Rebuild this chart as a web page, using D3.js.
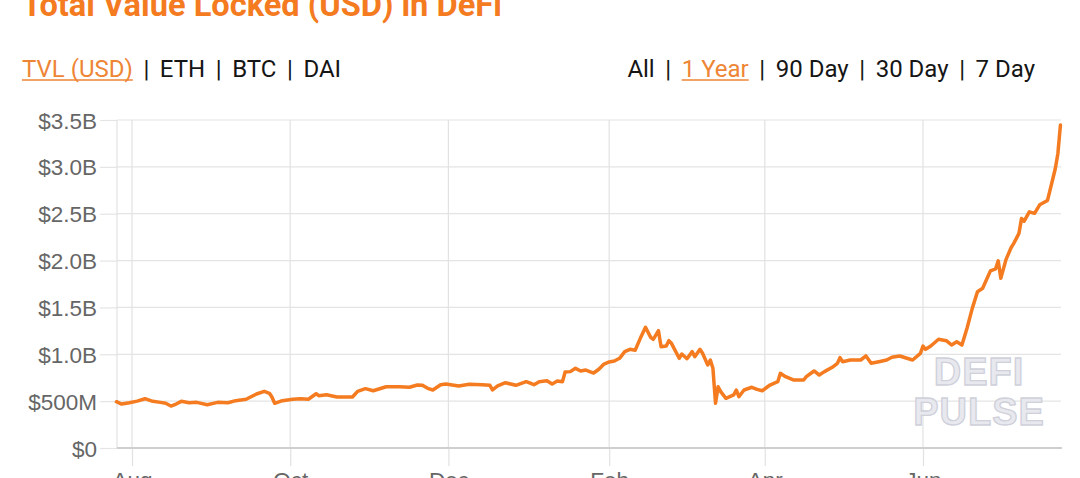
<!DOCTYPE html>
<html><head><meta charset="utf-8">
<script src="https://cdn.jsdelivr.net/npm/d3@7"></script>
<style>
html,body{margin:0;padding:0;background:#fff;overflow:hidden}
svg{display:block}
</style></head><body>
<svg id="c" width="1080" height="478"></svg>
<script>
// ---- data (TVL in billions USD) ----
const dates = [
"2019-07-26","2019-07-28","2019-07-31","2019-08-03","2019-08-06","2019-08-09","2019-08-12","2019-08-14","2019-08-16","2019-08-18",
"2019-08-20","2019-08-23","2019-08-26","2019-08-30","2019-09-03","2019-09-07","2019-09-10","2019-09-14","2019-09-18","2019-09-21",
"2019-09-23","2019-09-24","2019-09-25","2019-09-28","2019-10-02","2019-10-05","2019-10-08","2019-10-11","2019-10-12","2019-10-15",
"2019-10-19","2019-10-25","2019-10-27","2019-10-30","2019-11-02","2019-11-07","2019-11-12","2019-11-16","2019-11-19","2019-11-21",
"2019-11-23","2019-11-25","2019-11-28","2019-11-30","2019-12-05","2019-12-09","2019-12-14","2019-12-17","2019-12-18","2019-12-20",
"2019-12-23","2019-12-27","2019-12-31","2020-01-03","2020-01-05","2020-01-08","2020-01-10","2020-01-12","2020-01-14","2020-01-15",
"2020-01-17","2020-01-19","2020-01-21","2020-01-23","2020-01-26","2020-01-28","2020-01-30","2020-02-01","2020-02-03","2020-02-05",
"2020-02-07","2020-02-09","2020-02-11","2020-02-13","2020-02-15","2020-02-17","2020-02-18","2020-02-20","2020-02-21","2020-02-23",
"2020-02-24","2020-02-25","2020-02-28","2020-02-29","2020-03-02","2020-03-04","2020-03-05","2020-03-07","2020-03-08","2020-03-10",
"2020-03-11","2020-03-12","2020-03-13","2020-03-14","2020-03-15","2020-03-17","2020-03-20","2020-03-21","2020-03-22","2020-03-24",
"2020-03-27","2020-03-29","2020-03-31","2020-04-03","2020-04-06","2020-04-07","2020-04-09","2020-04-12","2020-04-16","2020-04-17",
"2020-04-20","2020-04-22","2020-04-24","2020-04-27","2020-04-29","2020-04-30","2020-05-01","2020-05-04","2020-05-08","2020-05-10",
"2020-05-12","2020-05-15","2020-05-18","2020-05-20","2020-05-23","2020-05-28","2020-05-31","2020-06-01","2020-06-02","2020-06-04",
"2020-06-07","2020-06-10","2020-06-12","2020-06-14","2020-06-16","2020-06-18","2020-06-20","2020-06-22","2020-06-24","2020-06-27",
"2020-06-29","2020-06-30","2020-07-01","2020-07-03","2020-07-05","2020-07-06","2020-07-08","2020-07-09","2020-07-10","2020-07-12",
"2020-07-14","2020-07-16","2020-07-19","2020-07-20","2020-07-22","2020-07-23","2020-07-24"
];
const tvl = [
0.494,0.469,0.483,0.500,0.526,0.498,0.487,0.477,0.448,0.469,
0.498,0.483,0.487,0.462,0.487,0.483,0.505,0.520,0.576,0.605,
0.584,0.541,0.477,0.505,0.520,0.526,0.520,0.579,0.558,0.569,
0.544,0.544,0.605,0.633,0.611,0.654,0.654,0.648,0.672,0.669,
0.637,0.619,0.675,0.683,0.662,0.680,0.675,0.669,0.619,0.662,
0.697,0.669,0.708,0.675,0.708,0.718,0.683,0.715,0.708,0.811,
0.815,0.850,0.822,0.832,0.800,0.840,0.896,0.918,0.928,0.957,
1.028,1.053,1.043,1.170,1.288,1.181,1.160,1.252,1.081,1.088,
1.145,1.117,0.957,1.003,0.953,1.028,0.974,1.053,1.011,0.886,
0.939,0.850,0.477,0.654,0.601,0.530,0.566,0.619,0.548,0.619,
0.648,0.626,0.611,0.672,0.708,0.797,0.761,0.726,0.726,0.761,
0.822,0.779,0.815,0.861,0.904,0.964,0.921,0.939,0.939,0.982,
0.904,0.921,0.939,0.968,0.982,0.939,1.010,1.088,1.053,1.088,
1.160,1.145,1.099,1.134,1.099,1.280,1.490,1.668,1.704,1.890,
1.912,1.997,1.811,2.010,2.140,2.183,2.290,2.450,2.420,2.520,
2.504,2.595,2.642,2.753,2.980,3.140,3.447
];
const xTickDates = ["2019-08-01","2019-10-01","2019-12-01","2020-02-01","2020-04-01","2020-06-01"];
const xTickLabels = ["Aug","Oct","Dec","Feb","Apr","Jun"];
const yTickValues = [0,0.5,1.0,1.5,2.0,2.5,3.0,3.5];
const yTickLabels = ["$0","$500M","$1.0B","$1.5B","$2.0B","$2.5B","$3.0B","$3.5B"];
const metricTabs = ["TVL (USD)","ETH","BTC","DAI"];
const rangeTabs = ["All","1 Year","90 Day","30 Day","7 Day"];
const titleText = "Total Value Locked (USD) in DeFi";
const watermark = ["DEFI","PULSE"];

// ---- styles / layout ----
const ORANGE = "#f47b1f";
const TAB_ORANGE = "#ee8535";
const parse = d3.utcParse("%Y-%m-%d");
const svg = d3.select("#c");
const plotL = 117, plotR = 1061, plotT = 120, plotB = 448;

const x = d3.scaleUtc()
  .domain([parse(xTickDates[0]), parse(xTickDates[xTickDates.length-1])])
  .range([132, 923]);
const y = d3.scaleLinear().domain([0, 3.5]).range([plotB, plotT]);

const data = dates.map((d,i)=>({date: parse(d), v: tvl[i]}));

// title
const title = svg.append("text")
  .attr("x", 22).attr("y", 15.5)
  .attr("font-family", "Roboto, 'Liberation Sans', sans-serif")
  .attr("font-weight", 700).attr("font-size", 32)
  .attr("fill", ORANGE).text(titleText);
const tw = title.node().getComputedTextLength();
title.attr("font-size", 32 * 480 / tw);

// tabs
function drawTabs(items, active, startX, alignRight) {
  const g = svg.append("g");
  const fs = 24, gap = 13.5, base = 76.5;
  const nodes = items.map((t,i)=> g.append("text")
      .attr("font-family","Roboto, sans-serif").attr("font-size", fs)
      .attr("fill", i===active ? TAB_ORANGE : "#151515").text(t));
  const widths = nodes.map(n=>n.node().getComputedTextLength());
  const total = d3.sum(widths) + gap*2*(items.length-1);
  let cx = alignRight ? startX - total : startX;
  nodes.forEach((n,i)=>{
    n.attr("x", cx).attr("y", base);
    if (i===active) {
      g.append("line").attr("x1",cx).attr("x2",cx+widths[i])
        .attr("y1",base+3.5).attr("y2",base+3.5)
        .attr("stroke",TAB_ORANGE).attr("stroke-width",1.4);
    }
    cx += widths[i];
    if (i < items.length-1) {
      g.append("text").attr("x", cx+gap).attr("y", base)
        .attr("text-anchor","middle")
        .attr("font-family","Roboto, sans-serif").attr("font-size", fs)
        .attr("fill","#151515").text("|");
      cx += gap*2;
    }
  });
}
drawTabs(metricTabs, 0, 22, false);
drawTabs(rangeTabs, 1, 1035, true);

// horizontal grid
svg.append("g").selectAll("line").data(yTickValues.slice(1)).join("line")
  .attr("x1", plotL).attr("x2", plotR)
  .attr("y1", d=>y(d)).attr("y2", d=>y(d))
  .attr("stroke", "#e4e4e4").attr("stroke-width", 1.2);

// vertical grid
svg.append("g").selectAll("line").data(xTickDates).join("line")
  .attr("x1", d=>x(parse(d))).attr("x2", d=>x(parse(d)))
  .attr("y1", plotT).attr("y2", plotB)
  .attr("stroke", "#e2e2e2").attr("stroke-width", 1.2);
// left border
svg.append("line").attr("x1",plotL).attr("x2",plotL).attr("y1",plotT).attr("y2",plotB)
  .attr("stroke","#e2e2e2").attr("stroke-width",1.2);

// y axis
const yAxis = d3.axisLeft(y).tickValues(yTickValues)
  .tickFormat((d,i)=>yTickLabels[i]).tickSize(17).tickPadding(3);
const gy = svg.append("g").attr("transform",`translate(${plotL},0)`).call(yAxis);
gy.select(".domain").remove();
gy.selectAll(".tick line").attr("stroke","#e4e4e4").attr("stroke-width",1.2);
gy.selectAll(".tick text").attr("font-family","'Liberation Sans', Arial, sans-serif")
  .attr("font-size",22.5).attr("fill","#666").attr("dy","0.36em");

// x axis
const xAxis = d3.axisBottom(x).tickValues(xTickDates.map(parse))
  .tickFormat((d,i)=>xTickLabels[i]).tickSize(18).tickPadding(6);
const gx = svg.append("g").attr("transform",`translate(0,${plotB})`).call(xAxis);
gx.select(".domain").remove();
gx.selectAll(".tick line").attr("stroke","#e2e2e2").attr("stroke-width",1.2);
gx.selectAll(".tick text").attr("font-family","'Liberation Sans', Arial, sans-serif")
  .attr("font-size",22.5).attr("fill","#666");

// baseline
svg.append("line").attr("x1",plotL).attr("x2",plotR+1).attr("y1",plotB).attr("y2",plotB)
  .attr("stroke","#cfcfcf").attr("stroke-width",2);

// watermark
svg.append("g").selectAll("text").data(watermark).join("text")
  .attr("x", 979).attr("y",(d,i)=> 385 + i*40)
  .attr("text-anchor","middle")
  .attr("font-family","'Liberation Sans', Arial, sans-serif")
  .attr("font-weight",700).attr("font-size",38).attr("letter-spacing",1)
  .attr("fill","#e8e9ef").attr("stroke","#cfd0da").attr("stroke-width",1.3)
  .text(d=>d);

// line
const line = d3.line().x(d=>x(d.date)).y(d=>y(d.v));
svg.append("path").datum(data).attr("d", line)
  .attr("fill","none").attr("stroke",ORANGE).attr("stroke-width",3.5)
  .attr("stroke-linejoin","round").attr("stroke-linecap","round");
</script>
</body></html>
